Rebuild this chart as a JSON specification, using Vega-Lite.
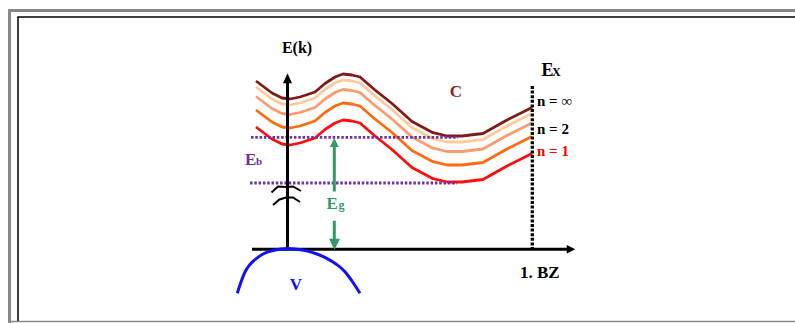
{
  "$schema": "https://vega.github.io/schema/vega-lite/v6.json",
  "width": 795,
  "height": 323,
  "autosize": {"type": "none"},
  "padding": 0,
  "background": "white",
  "config": {"view": {"stroke": null}},
  "encoding": {
    "x": {"field": "x", "type": "quantitative", "scale": {"domain": [0, 795], "nice": false, "zero": false}, "axis": null},
    "y": {"field": "y", "type": "quantitative", "scale": {"domain": [0, 323], "reverse": true, "nice": false, "zero": false}, "axis": null}
  },
  "layer": [
    {
      "data": {"values": [{"x": 8, "y": 10.5, "x2": 795, "y2": 10.5}, {"x": 9.5, "y": 9, "x2": 9.5, "y2": 323}]},
      "mark": {"type": "rule", "color": "#888888", "strokeWidth": 3},
      "encoding": {"x2": {"field": "x2"}, "y2": {"field": "y2"}}
    },
    {
      "data": {"values": [{"x": 11, "y": 321.5, "x2": 795, "y2": 321.5}]},
      "mark": {"type": "rule", "color": "#888888", "strokeWidth": 1.5},
      "encoding": {"x2": {"field": "x2"}, "y2": {"field": "y2"}}
    },
    {
      "data": {"values": [{"x": 17.3, "y": 17, "x2": 795, "y2": 17}, {"x": 18, "y": 17, "x2": 18, "y2": 321}]},
      "mark": {"type": "rule", "color": "#000000", "strokeWidth": 1.5},
      "encoding": {"x2": {"field": "x2"}, "y2": {"field": "y2"}}
    },
    {
      "data": {"values": [
        {"band": "n=inf", "x": 256, "y": 81}, {"band": "n=inf", "x": 264, "y": 87}, {"band": "n=inf", "x": 272, "y": 93}, {"band": "n=inf", "x": 282, "y": 98}, {"band": "n=inf", "x": 290, "y": 99}, {"band": "n=inf", "x": 300, "y": 97}, {"band": "n=inf", "x": 315, "y": 92}, {"band": "n=inf", "x": 325, "y": 83.5}, {"band": "n=inf", "x": 335, "y": 77}, {"band": "n=inf", "x": 343, "y": 74}, {"band": "n=inf", "x": 352, "y": 75}, {"band": "n=inf", "x": 360, "y": 77}, {"band": "n=inf", "x": 375, "y": 90}, {"band": "n=inf", "x": 392, "y": 103.5}, {"band": "n=inf", "x": 412, "y": 121.5}, {"band": "n=inf", "x": 433, "y": 132.7}, {"band": "n=inf", "x": 447, "y": 136}, {"band": "n=inf", "x": 462, "y": 136}, {"band": "n=inf", "x": 483, "y": 133.5}, {"band": "n=inf", "x": 507, "y": 120}, {"band": "n=inf", "x": 532, "y": 107.5},
        {"band": "n=3", "x": 256, "y": 87}, {"band": "n=3", "x": 264, "y": 93}, {"band": "n=3", "x": 272, "y": 99}, {"band": "n=3", "x": 282, "y": 104}, {"band": "n=3", "x": 290, "y": 105}, {"band": "n=3", "x": 300, "y": 103}, {"band": "n=3", "x": 315, "y": 98}, {"band": "n=3", "x": 325, "y": 89.5}, {"band": "n=3", "x": 335, "y": 83}, {"band": "n=3", "x": 343, "y": 80}, {"band": "n=3", "x": 352, "y": 81}, {"band": "n=3", "x": 360, "y": 83}, {"band": "n=3", "x": 375, "y": 96}, {"band": "n=3", "x": 392, "y": 109.5}, {"band": "n=3", "x": 412, "y": 127.5}, {"band": "n=3", "x": 433, "y": 138.7}, {"band": "n=3", "x": 447, "y": 142}, {"band": "n=3", "x": 462, "y": 142}, {"band": "n=3", "x": 483, "y": 139.5}, {"band": "n=3", "x": 507, "y": 126}, {"band": "n=3", "x": 532, "y": 113.5},
        {"band": "n=2", "x": 256, "y": 96.5}, {"band": "n=2", "x": 264, "y": 102.5}, {"band": "n=2", "x": 272, "y": 108.5}, {"band": "n=2", "x": 282, "y": 113.5}, {"band": "n=2", "x": 290, "y": 114.5}, {"band": "n=2", "x": 300, "y": 112.5}, {"band": "n=2", "x": 315, "y": 107.5}, {"band": "n=2", "x": 325, "y": 99}, {"band": "n=2", "x": 335, "y": 92.5}, {"band": "n=2", "x": 343, "y": 89.5}, {"band": "n=2", "x": 352, "y": 90.5}, {"band": "n=2", "x": 360, "y": 92.5}, {"band": "n=2", "x": 375, "y": 105.5}, {"band": "n=2", "x": 392, "y": 119}, {"band": "n=2", "x": 412, "y": 137}, {"band": "n=2", "x": 433, "y": 148.2}, {"band": "n=2", "x": 447, "y": 151.5}, {"band": "n=2", "x": 462, "y": 151.5}, {"band": "n=2", "x": 483, "y": 149}, {"band": "n=2", "x": 507, "y": 135.5}, {"band": "n=2", "x": 532, "y": 123},
        {"band": "n=1b", "x": 256, "y": 110}, {"band": "n=1b", "x": 264, "y": 116}, {"band": "n=1b", "x": 272, "y": 122}, {"band": "n=1b", "x": 282, "y": 127}, {"band": "n=1b", "x": 290, "y": 128}, {"band": "n=1b", "x": 300, "y": 126}, {"band": "n=1b", "x": 315, "y": 121}, {"band": "n=1b", "x": 325, "y": 112.5}, {"band": "n=1b", "x": 335, "y": 106}, {"band": "n=1b", "x": 343, "y": 103}, {"band": "n=1b", "x": 352, "y": 104}, {"band": "n=1b", "x": 360, "y": 106}, {"band": "n=1b", "x": 375, "y": 119}, {"band": "n=1b", "x": 392, "y": 132.5}, {"band": "n=1b", "x": 412, "y": 150.5}, {"band": "n=1b", "x": 433, "y": 161.7}, {"band": "n=1b", "x": 447, "y": 165}, {"band": "n=1b", "x": 462, "y": 165}, {"band": "n=1b", "x": 483, "y": 162.5}, {"band": "n=1b", "x": 507, "y": 149}, {"band": "n=1b", "x": 532, "y": 136.5},
        {"band": "n=1", "x": 256, "y": 127}, {"band": "n=1", "x": 264, "y": 133}, {"band": "n=1", "x": 272, "y": 139}, {"band": "n=1", "x": 282, "y": 144}, {"band": "n=1", "x": 290, "y": 145}, {"band": "n=1", "x": 300, "y": 143}, {"band": "n=1", "x": 315, "y": 138}, {"band": "n=1", "x": 325, "y": 129.5}, {"band": "n=1", "x": 335, "y": 123}, {"band": "n=1", "x": 343, "y": 120}, {"band": "n=1", "x": 352, "y": 121}, {"band": "n=1", "x": 360, "y": 123}, {"band": "n=1", "x": 375, "y": 136}, {"band": "n=1", "x": 392, "y": 149.5}, {"band": "n=1", "x": 412, "y": 167.5}, {"band": "n=1", "x": 433, "y": 178.7}, {"band": "n=1", "x": 447, "y": 182}, {"band": "n=1", "x": 462, "y": 182}, {"band": "n=1", "x": 483, "y": 179.5}, {"band": "n=1", "x": 507, "y": 166}, {"band": "n=1", "x": 532, "y": 153.5}
      ]},
      "mark": {"type": "line", "strokeWidth": 2.8, "strokeJoin": "round"},
      "encoding": {
        "color": {"field": "band", "type": "nominal", "scale": {"domain": ["n=inf", "n=3", "n=2", "n=1b", "n=1"], "range": ["#7f1a1a", "#ffca9a", "#fd9b6e", "#ff6b0d", "#ff0d0d"]}, "legend": null}
      }
    },
    {
      "data": {"values": [{"x": 251, "y": 137.3, "x2": 458, "y2": 137.3}, {"x": 250, "y": 183, "x2": 457, "y2": 183}]},
      "mark": {"type": "rule", "color": "#7030a0", "strokeWidth": 2.8, "strokeDash": [2.5, 1.8]},
      "encoding": {"x2": {"field": "x2"}, "y2": {"field": "y2"}}
    },
    {
      "data": {"values": [{"x": 532.3, "y": 86, "x2": 532.3, "y2": 249}]},
      "mark": {"type": "rule", "color": "#000000", "strokeWidth": 3.3, "strokeDash": [3, 1.6]},
      "encoding": {"x2": {"field": "x2"}, "y2": {"field": "y2"}}
    },
    {
      "data": {"values": [{"x": 287.5, "y": 80, "x2": 287.5, "y2": 249.5}, {"x": 252, "y": 249.3, "x2": 568, "y2": 249.3}]},
      "mark": {"type": "rule", "color": "#000000", "strokeWidth": 3},
      "encoding": {"x2": {"field": "x2"}, "y2": {"field": "y2"}}
    },
    {
      "data": {"values": [
        {"seg": "a", "x": 271.5, "y": 192.5}, {"seg": "a", "x": 278, "y": 186.5}, {"seg": "a", "x": 286, "y": 187}, {"seg": "a", "x": 293, "y": 186.5}, {"seg": "a", "x": 301, "y": 191},
        {"seg": "b", "x": 273, "y": 205}, {"seg": "b", "x": 279.5, "y": 199.5}, {"seg": "b", "x": 286, "y": 197.5}, {"seg": "b", "x": 293, "y": 197.5}, {"seg": "b", "x": 300, "y": 202}
      ]},
      "mark": {"type": "line", "color": "#000000", "strokeWidth": 2},
      "encoding": {"detail": {"field": "seg", "type": "nominal"}}
    },
    {
      "data": {"values": [{"x": 287.5, "y": 78.3}]},
      "mark": {"type": "point", "shape": "M0,-1L-0.9,1L0.9,1Z", "filled": true, "color": "#000000", "opacity": 1, "size": 100}
    },
    {
      "data": {"values": [{"x": 571, "y": 249.3}]},
      "mark": {"type": "point", "shape": "M1,0L-1,-1L-1,1Z", "filled": true, "color": "#000000", "opacity": 1, "size": 72}
    },
    {
      "data": {"values": [{"x": 334.3, "y": 145, "x2": 334.3, "y2": 191.5}, {"x": 334.3, "y": 220.7, "x2": 334.3, "y2": 243}]},
      "mark": {"type": "rule", "color": "#339966", "strokeWidth": 3},
      "encoding": {"x2": {"field": "x2"}, "y2": {"field": "y2"}}
    },
    {
      "data": {"values": [{"x": 334.3, "y": 142.5}]},
      "mark": {"type": "point", "shape": "M0,-1L-1,1L1,1Z", "filled": true, "color": "#339966", "opacity": 1, "size": 81}
    },
    {
      "data": {"values": [{"x": 334.5, "y": 244.3}]},
      "mark": {"type": "point", "shape": "M0,1L-1,-1L1,-1Z", "filled": true, "color": "#339966", "opacity": 1, "size": 121}
    },
    {
      "data": {"values": [
        {"x": 237.3, "y": 293.3}, {"x": 241, "y": 282}, {"x": 245, "y": 272}, {"x": 250, "y": 264.5}, {"x": 256.7, "y": 258.3}, {"x": 264, "y": 253.5}, {"x": 273.3, "y": 250.5}, {"x": 281, "y": 248.9}, {"x": 288.3, "y": 248.5}, {"x": 297, "y": 249.2}, {"x": 306.7, "y": 250.9}, {"x": 317, "y": 254}, {"x": 326.7, "y": 258.3}, {"x": 336, "y": 264}, {"x": 345, "y": 271.7}, {"x": 352, "y": 281}, {"x": 360, "y": 293.3}
      ]},
      "mark": {"type": "line", "color": "#1010ff", "strokeWidth": 3, "interpolate": "monotone"}
    },
    {
      "data": {"values": [{"x": 297, "y": 53, "label": "E(k)"}]},
      "mark": {"type": "text", "font": "Liberation Serif", "fontWeight": "bold", "fontSize": 16, "color": "#000000", "align": "center", "baseline": "alphabetic"},
      "encoding": {"text": {"field": "label"}}
    },
    {
      "data": {"values": [{"x": 456, "y": 97, "label": "C"}]},
      "mark": {"type": "text", "font": "Liberation Serif", "fontWeight": "bold", "fontSize": 17, "color": "#8b1e1e", "align": "center", "baseline": "alphabetic"},
      "encoding": {"text": {"field": "label"}}
    },
    {
      "data": {"values": [{"x": 541.5, "y": 76, "label": "E"}]},
      "mark": {"type": "text", "font": "Liberation Serif", "fontWeight": "bold", "fontSize": 18, "color": "#000000", "align": "left", "baseline": "alphabetic"},
      "encoding": {"text": {"field": "label"}}
    },
    {
      "data": {"values": [{"x": 552, "y": 76, "label": "X"}]},
      "mark": {"type": "text", "font": "Liberation Serif", "fontWeight": "bold", "fontSize": 12, "color": "#000000", "align": "left", "baseline": "alphabetic"},
      "encoding": {"text": {"field": "label"}}
    },
    {
      "data": {"values": [{"x": 537, "y": 106, "label": "n = ∞"}, {"x": 537, "y": 134.3, "label": "n = 2"}]},
      "mark": {"type": "text", "font": "Liberation Serif", "fontWeight": "bold", "fontSize": 15, "color": "#000000", "align": "left", "baseline": "alphabetic"},
      "encoding": {"text": {"field": "label"}}
    },
    {
      "data": {"values": [{"x": 537, "y": 156, "label": "n = 1"}]},
      "mark": {"type": "text", "font": "Liberation Serif", "fontWeight": "bold", "fontSize": 15, "color": "#ff0000", "align": "left", "baseline": "alphabetic"},
      "encoding": {"text": {"field": "label"}}
    },
    {
      "data": {"values": [{"x": 245, "y": 165, "label": "E"}]},
      "mark": {"type": "text", "font": "Liberation Serif", "fontWeight": "bold", "fontSize": 17, "color": "#7030a0", "align": "left", "baseline": "alphabetic"},
      "encoding": {"text": {"field": "label"}}
    },
    {
      "data": {"values": [{"x": 256, "y": 165, "label": "b"}]},
      "mark": {"type": "text", "font": "Liberation Serif", "fontWeight": "bold", "fontSize": 11, "color": "#7030a0", "align": "left", "baseline": "alphabetic"},
      "encoding": {"text": {"field": "label"}}
    },
    {
      "data": {"values": [{"x": 326.5, "y": 208.7, "label": "E"}]},
      "mark": {"type": "text", "font": "Liberation Serif", "fontWeight": "bold", "fontSize": 17, "color": "#339966", "align": "left", "baseline": "alphabetic"},
      "encoding": {"text": {"field": "label"}}
    },
    {
      "data": {"values": [{"x": 338.5, "y": 209, "label": "g"}]},
      "mark": {"type": "text", "font": "Liberation Serif", "fontWeight": "bold", "fontSize": 12, "color": "#339966", "align": "left", "baseline": "alphabetic"},
      "encoding": {"text": {"field": "label"}}
    },
    {
      "data": {"values": [{"x": 296, "y": 290, "label": "V"}]},
      "mark": {"type": "text", "font": "Liberation Serif", "fontWeight": "bold", "fontSize": 17, "color": "#1010ff", "align": "center", "baseline": "alphabetic"},
      "encoding": {"text": {"field": "label"}}
    },
    {
      "data": {"values": [{"x": 520, "y": 278.3, "label": "1. BZ"}]},
      "mark": {"type": "text", "font": "Liberation Serif", "fontWeight": "bold", "fontSize": 17, "color": "#000000", "align": "left", "baseline": "alphabetic"},
      "encoding": {"text": {"field": "label"}}
    }
  ]
}
